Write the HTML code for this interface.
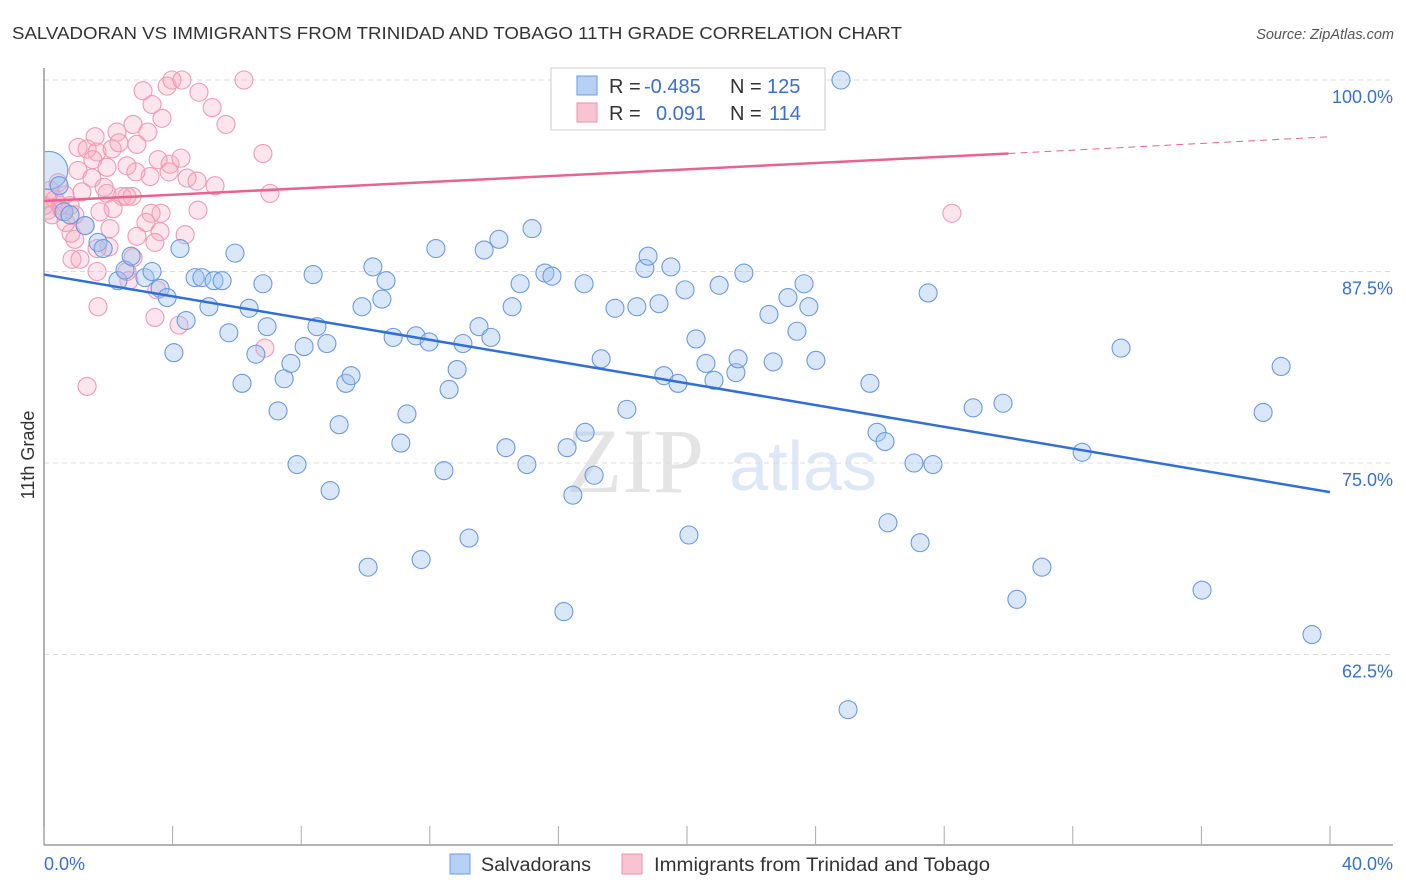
<!DOCTYPE html>
<html><head><meta charset="utf-8"><style>
body{margin:0;background:#fff;font-family:"Liberation Sans",sans-serif;}
#wrap{position:relative;width:1406px;height:892px;overflow:hidden;}
</style></head><body>
<div id="wrap">
<svg id="chart" width="1406" height="892" xmlns="http://www.w3.org/2000/svg">
<text x="12" y="39" font-size="17.5" fill="#333" textLength="890" lengthAdjust="spacingAndGlyphs">SALVADORAN VS IMMIGRANTS FROM TRINIDAD AND TOBAGO 11TH GRADE CORRELATION CHART</text>
<text x="1394" y="39" font-size="14.5" fill="#555" font-style="italic" text-anchor="end">Source: ZipAtlas.com</text>
<text x="34" y="455" font-size="18" fill="#333" text-anchor="middle" transform="rotate(-90 34 455)">11th Grade</text>
<g><text x="635" y="492" font-size="92" fill="#e4e4e4" text-anchor="middle" font-family="Liberation Serif,serif">ZIP</text><text x="803" y="490" font-size="70" fill="#dde7f5" text-anchor="middle">atlas</text></g>
<g id="grid"></g><g id="axes"></g>
<svg x="45" y="60" width="1360" height="785" viewBox="45 60 1360 785" overflow="hidden"><g id="pinkDots"></g><g id="blueDots"></g></svg>
<g id="trends"></g>
<g>
<rect x="551" y="68" width="274" height="62" fill="#fff" stroke="#ccc"/>
<rect x="577" y="76" width="20" height="19" fill="#b7d0f5" stroke="#6a9be0"/>
<rect x="577" y="103" width="20" height="19" fill="#f8c4d2" stroke="#ec8fab"/>
<text x="609" y="93" font-size="20" fill="#333">R = <tspan fill="#3a6fd0" x="644">-0.485</tspan></text>
<text x="730" y="93" font-size="20" fill="#333">N = <tspan fill="#3a6fd0" x="767">125</tspan></text>
<text x="609" y="120" font-size="20" fill="#333">R = <tspan fill="#3a6fd0" x="656">0.091</tspan></text>
<text x="730" y="120" font-size="20" fill="#333">N = <tspan fill="#3a6fd0" x="769">114</tspan></text>
</g>
<g>
<rect x="450" y="854" width="20" height="20" fill="#b7d0f5" stroke="#6a9be0"/>
<text x="481" y="871" font-size="19" fill="#333" textLength="110" lengthAdjust="spacingAndGlyphs">Salvadorans</text>
<rect x="622" y="854" width="20" height="20" fill="#f8c4d2" stroke="#ec8fab"/>
<text x="654" y="871" font-size="19" fill="#333" textLength="336" lengthAdjust="spacingAndGlyphs">Immigrants from Trinidad and Tobago</text>
</g>
</svg>
</div>
<script>
const yTicks=[100,87.5,75,62.5];
const yTickLabels=["100.0%","87.5%","75.0%","62.5%"];
const xTicks=[0,4,8,12,16,20,24,28,32,36,40];
const blueX=[0.15,0.47,0.62,0.81,1.28,1.68,1.84,2.30,2.52,2.71,3.14,3.36,3.61,3.83,4.04,4.23,4.42,4.70,4.91,5.13,5.29,5.54,5.75,5.94,6.16,6.38,6.59,6.81,6.94,7.28,7.47,7.68,7.87,8.09,8.37,8.49,8.80,8.90,9.18,9.39,9.55,9.89,10.08,10.23,10.51,10.64,10.86,11.10,11.29,11.57,11.73,11.98,12.19,12.44,12.60,12.85,13.03,13.22,13.53,13.69,13.90,14.15,14.37,14.56,14.81,15.02,15.18,15.58,15.80,16.17,16.27,16.45,16.80,16.83,17.11,17.33,17.76,18.13,18.44,18.69,18.79,19.13,19.28,19.50,19.72,19.94,20.06,20.28,20.59,20.84,21.00,21.52,21.59,21.77,22.55,22.68,23.14,23.42,23.64,23.79,24.01,24.79,25.01,25.69,25.91,26.16,26.25,27.06,27.25,27.50,27.65,28.90,29.83,30.26,31.04,32.29,33.50,36.02,37.92,38.48,39.44];
const blueY=[94.1,93.1,91.4,91.2,90.5,89.4,89.0,86.9,87.6,88.5,87.1,87.5,86.4,85.8,82.2,89.0,84.3,87.1,87.1,85.2,86.9,86.9,83.5,88.7,80.2,85.1,82.1,86.7,83.9,78.4,80.5,81.5,74.9,82.6,87.3,83.9,82.8,73.2,77.5,80.2,80.7,85.2,68.2,87.8,85.7,86.9,83.2,76.3,78.2,83.3,68.7,82.9,89.0,74.5,79.8,81.1,82.8,70.1,83.9,88.9,83.2,89.6,76.0,85.2,86.7,74.9,90.3,87.4,87.2,65.3,76.0,72.9,86.7,77.0,74.2,81.8,85.1,78.5,85.2,87.7,88.5,85.4,80.7,87.8,80.2,86.3,70.3,83.1,81.5,80.4,86.6,80.9,81.8,87.4,84.7,81.6,85.8,83.6,86.7,85.2,81.7,100.0,58.9,80.2,77.0,76.4,71.1,75.0,69.8,86.1,74.9,78.6,78.9,66.1,68.2,75.7,82.5,66.7,78.3,81.3,63.8];
const pinkX=[3.08,3.36,3.67,3.83,3.98,4.29,4.82,5.23,5.66,6.22,6.81,7.03,2.77,3.23,2.27,1.59,1.06,1.34,1.65,1.52,2.12,2.33,2.89,3.55,3.92,4.26,3.89,3.30,2.86,2.58,1.96,1.06,1.49,1.87,1.96,2.43,2.74,2.58,2.15,1.74,1.18,4.45,4.76,5.32,4.79,4.39,3.64,3.33,3.17,3.61,3.45,2.89,2.05,2.02,1.65,0.96,0.84,1.28,0.87,1.12,1.65,2.64,2.77,2.58,3.51,1.68,3.45,4.20,6.87,1.34,0.19,0.34,0.50,0.12,0.65,0.25,0.44,0.09,0.56,0.81,0.96,0.68,0.0,28.24];
const pinkY=[99.3,98.4,97.5,99.6,100.0,100.0,99.2,98.2,97.1,100.0,95.2,92.6,97.1,96.6,96.6,96.3,95.6,95.5,95.3,94.8,95.5,95.9,95.8,94.8,94.5,94.9,94.0,93.7,94.0,94.4,94.3,94.1,93.6,93.0,92.6,92.4,92.4,92.4,91.6,91.4,92.7,93.6,93.4,93.1,91.5,89.9,91.3,91.3,90.7,90.1,89.4,89.8,90.3,89.1,89.0,89.6,90.0,90.5,88.3,88.3,87.5,86.9,88.4,87.5,86.3,85.2,84.5,84.0,82.5,80.0,92.8,92.2,91.8,91.5,92.5,91.2,93.3,92.3,91.5,91.8,91.2,90.7,91.8,91.3];
const blueTrendX=[0,40];
const blueTrendY=[87.3,73.1];
const pinkTrendX=[0,30,40];
const pinkTrendY=[92.1,95.2,96.3];

const NS="http://www.w3.org/2000/svg";
const X=v=>44+v/40*1286;
const Y=v=>80+(100-v)/12.5*191.5;
function mk(tag,parent,attrs){const e=document.createElementNS(NS,tag);for(const k in attrs)e.setAttribute(k,attrs[k]);document.getElementById(parent).appendChild(e);return e;}

yTicks.forEach((t,i)=>{
  const l=mk('line','grid',{x1:44,x2:1393,y1:Y(t),y2:Y(t),stroke:'#dcdcdc','stroke-dasharray':'5,4'});
  
  
  const tx=mk('text','grid',{x:1393,y:Y(t)+23,'font-size':18,fill:'#3a6fd0','text-anchor':'end'});
  tx.textContent=yTickLabels[i];
  
  
});
const ya=mk('line','axes',{x1:44,x2:44,y1:68,y2:845,stroke:'#999','stroke-width':1.5});


const xa=mk('line','axes',{x1:44,x2:1393,y1:845,y2:845,stroke:'#999','stroke-width':1.5});


xTicks.forEach(t=>{
  const l=mk('line','axes',{x1:X(t),x2:X(t),y1:826,y2:845,stroke:'#aaa'});
  
  
});
const xl0=mk('text','axes',{x:44,y:870,'font-size':18,fill:'#3a6fd0'});xl0.textContent='0.0%';


const xl1=mk('text','axes',{x:1393,y:870,'font-size':18,fill:'#3a6fd0','text-anchor':'end'});xl1.textContent='40.0%';



pinkX.forEach((v,i)=>{
  const c=mk('circle','pinkDots',{cx:X(v),cy:Y(pinkY[i]),r:9,fill:'rgba(245,170,192,0.3)',stroke:'#f09ab4','stroke-width':1.1});
  
  
});
blueX.forEach((v,i)=>{
  const c=mk('circle','blueDots',{cx:X(v),cy:Y(blueY[i]),r:i===0?19:9,fill:'rgba(160,195,240,0.4)',stroke:'#6c9ade','stroke-width':1.1});
  
  
});
const bt=mk('line','trends',{x1:X(blueTrendX[0]),y1:Y(blueTrendY[0]),x2:X(blueTrendX[1]),y2:Y(blueTrendY[1]),stroke:'#2f6fd6','stroke-width':2.5});


const pt=mk('line','trends',{x1:X(pinkTrendX[0]),y1:Y(pinkTrendY[0]),x2:X(pinkTrendX[1]),y2:Y(pinkTrendY[1]),stroke:'#e8638e','stroke-width':2.5});


const pd=mk('line','trends',{x1:X(pinkTrendX[1]),y1:Y(pinkTrendY[1]),x2:X(pinkTrendX[2]),y2:Y(pinkTrendY[2]),stroke:'#e8638e','stroke-width':1,'stroke-dasharray':'7,5'});


</script>
</body></html>
